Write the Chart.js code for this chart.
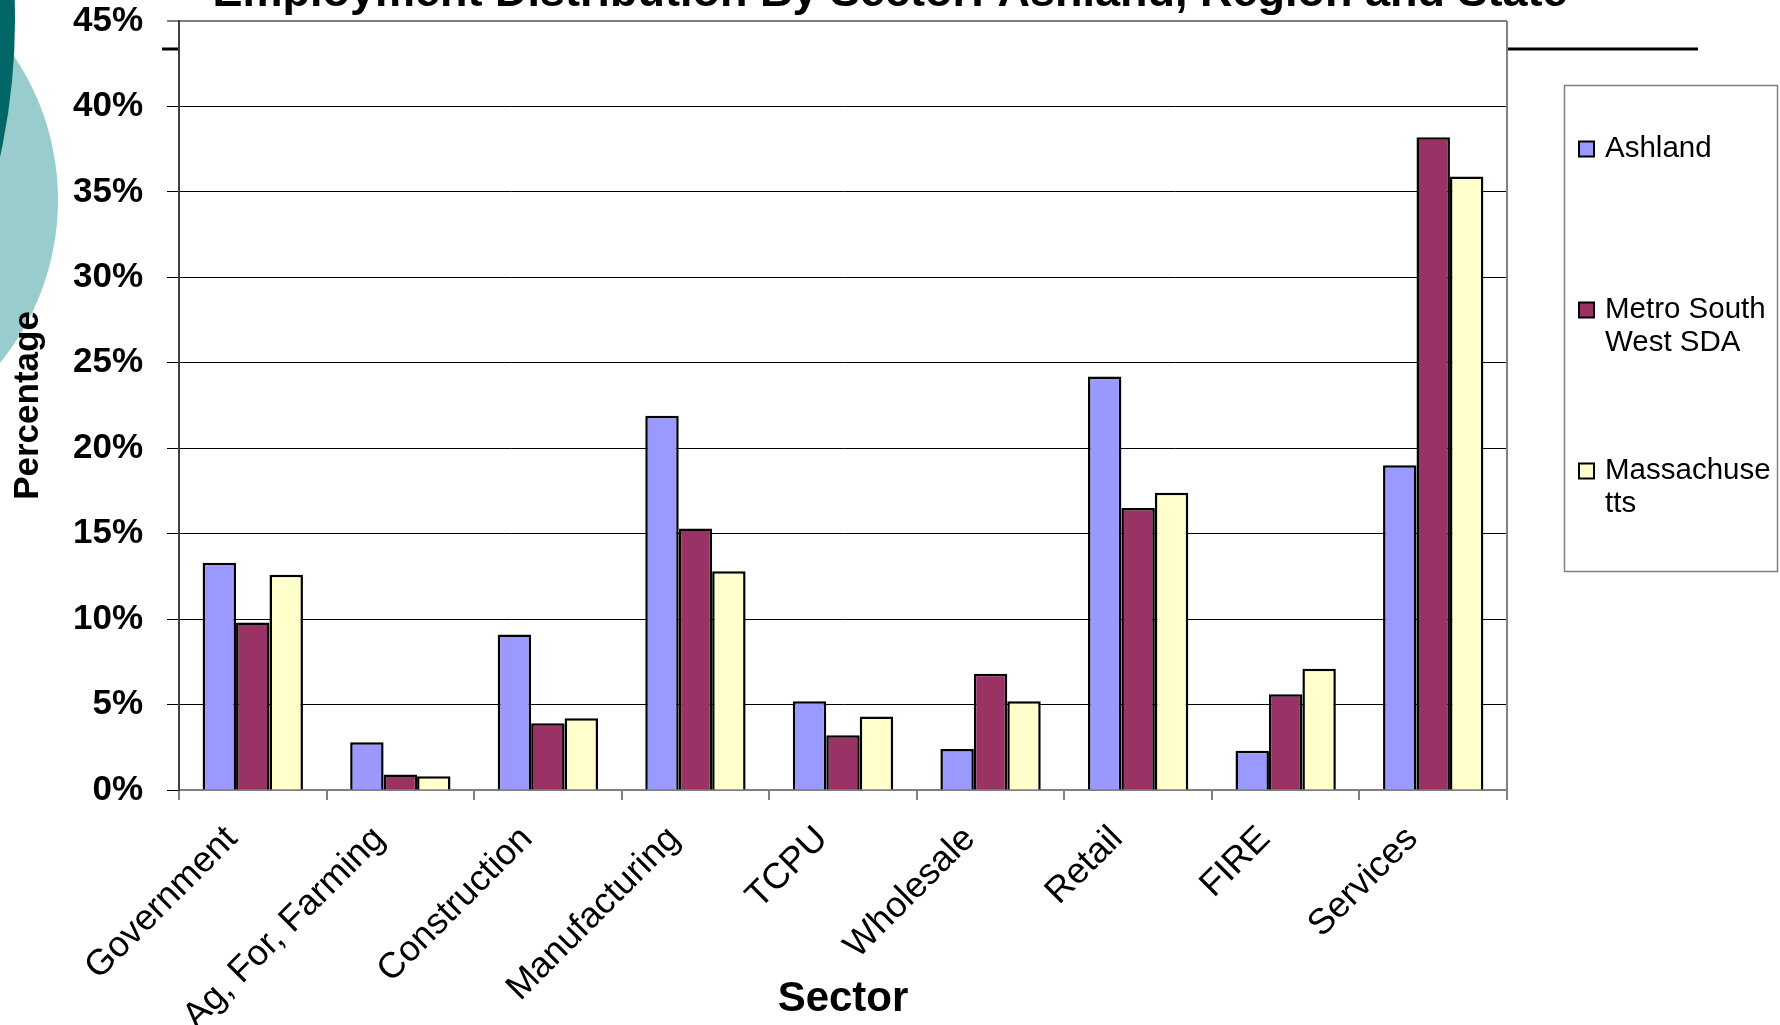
<!DOCTYPE html>
<html><head><meta charset="utf-8">
<script src="https://cdn.jsdelivr.net/npm/chart.js@4.4.1/dist/chart.umd.min.js"></script>
<style>html,body{margin:0;padding:0;background:#fff;}#wrap{width:1780px;height:1025px;position:relative;}</style>
</head><body><div id="wrap"><canvas id="c"></canvas></div>
<script>
const chartTitle = 'Employment Distribution By Sector: Ashland, Region and State';
const xAxisTitle = 'Sector';
const yAxisTitle = 'Percentage';
const categories = ['Government', 'Ag, For, Farming', 'Construction', 'Manufacturing', 'TCPU', 'Wholesale', 'Retail', 'FIRE', 'Services'];
const seriesNames = ['Ashland', 'Metro South West SDA', 'Massachusetts'];
const legendLines = [['Ashland'], ['Metro South', 'West SDA'], ['Massachuse', 'tts']];
const ashland = [13.3, 2.8, 9.1, 21.9, 5.2, 2.4, 24.2, 2.3, 19.0];
const metroSouthWest = [9.8, 0.9, 3.9, 15.3, 3.2, 6.8, 16.5, 5.6, 38.2];
const massachusetts = [12.6, 0.8, 4.2, 12.8, 4.3, 5.2, 17.4, 7.1, 35.9];
const yMin = 0, yMax = 45, yStep = 5;
const seriesColors = ['#9999FF', '#993366', '#FFFFCC'];

const FONT = '"Liberation Sans", Arial, sans-serif';

const deco = {
  id: 'deco',
  beforeDraw(chart) {
    const ctx = chart.ctx, a = chart.chartArea;
    ctx.save();
    ctx.fillStyle = '#fff';
    ctx.fillRect(0, 0, chart.width, chart.height);
    ctx.fillStyle = '#99CCCC';
    ctx.beginPath(); ctx.arc(-200, 200, 258, 0, Math.PI * 2); ctx.fill();
    ctx.fillStyle = '#006666';
    ctx.beginPath(); ctx.arc(-618, 20, 633, 0, Math.PI * 2); ctx.fill();
    ctx.strokeStyle = '#000'; ctx.lineWidth = 3;
    ctx.beginPath(); ctx.moveTo(162, 49); ctx.lineTo(1698, 49); ctx.stroke();
    ctx.fillStyle = '#fff';
    ctx.fillRect(a.left, a.top, a.right - a.left, a.bottom - a.top);
    ctx.restore();
  },
  afterDraw(chart) {
    const ctx = chart.ctx, a = chart.chartArea;
    ctx.save();
    ctx.strokeStyle = '#808080'; ctx.lineWidth = 2;
    ctx.beginPath(); ctx.moveTo(a.right, a.top); ctx.lineTo(a.right, a.bottom); ctx.stroke();
    ctx.fillStyle = '#000';
    ctx.font = 'bold 45px ' + FONT;
    ctx.textAlign = 'center'; ctx.textBaseline = 'alphabetic';
    ctx.fillText(chartTitle, 890, 6);
    ctx.strokeStyle = '#808080'; ctx.lineWidth = 1.5;
    ctx.strokeRect(1564.5, 85.5, 213, 486);
    const itemY = [149, 310, 471];
    ctx.font = '29.5px ' + FONT;
    ctx.textAlign = 'left'; ctx.textBaseline = 'middle';
    chart.data.datasets.forEach((ds, i) => {
      ctx.fillStyle = ds.backgroundColor;
      ctx.fillRect(1579, itemY[i] - 7.5, 15, 15);
      ctx.strokeStyle = '#000'; ctx.lineWidth = 2;
      ctx.strokeRect(1579, itemY[i] - 7.5, 15, 15);
      ctx.fillStyle = '#000';
      legendLines[i].forEach((t, j) => ctx.fillText(t, 1605, itemY[i] + j * 33));
    });
    ctx.restore();
  }
};

new Chart(document.getElementById('c'), {
  type: 'bar',
  data: {
    labels: categories,
    datasets: [
      { label: seriesNames[0], data: ashland, backgroundColor: seriesColors[0] },
      { label: seriesNames[1], data: metroSouthWest, backgroundColor: seriesColors[1] },
      { label: seriesNames[2], data: massachusetts, backgroundColor: seriesColors[2] }
    ].map(d => Object.assign(d, { borderColor: '#000', borderWidth: 2.5, categoryPercentage: 0.68, barPercentage: 1.0 }))
  },
  options: {
    responsive: true,
    maintainAspectRatio: false,
    animation: false,
    events: [],
    layout: { padding: { left: 0, right: 273, top: 21, bottom: 0 } },
    plugins: { legend: { display: false }, title: { display: false }, tooltip: { enabled: false } },
    scales: {
      x: {
        afterFit(s) { s.height = 235; },
        grid: { display: true, drawOnChartArea: false, drawTicks: true, tickLength: 10, color: '#808080', lineWidth: 2, offset: true },
        border: { display: true, color: '#808080', width: 2 },
        ticks: { color: '#000', font: { family: FONT, size: 36 }, minRotation: 45, maxRotation: 45, autoSkip: false, padding: 18, labelOffset: -21 },
        title: { display: true, text: xAxisTitle, color: '#000', font: { family: FONT, size: 42, weight: 'bold', lineHeight: 1.2 }, padding: { top: 0, bottom: 0 } }
      },
      y: {
        min: yMin, max: yMax,
        afterFit(s) { s.width = 179; s.paddingTop = 0; s.paddingBottom = 0; },
        grid: {
          color: c => (c.tick && c.tick.value === yMax) ? '#808080' : '#000',
          lineWidth: c => (c.tick && c.tick.value === yMax) ? 2 : 1,
          tickLength: 12
        },
        border: { display: true, color: '#404040', width: 2 },
        ticks: { stepSize: yStep, color: '#000', font: { family: FONT, size: 35, weight: 'bold' }, padding: 24, callback: v => v + '%' },
        title: { display: true, text: yAxisTitle, color: '#000', font: { family: FONT, size: 35, weight: 'bold', lineHeight: 1.2 }, padding: { top: 7, bottom: 0 } }
      }
    }
  },
  plugins: [deco]
});
</script>
</body></html>
